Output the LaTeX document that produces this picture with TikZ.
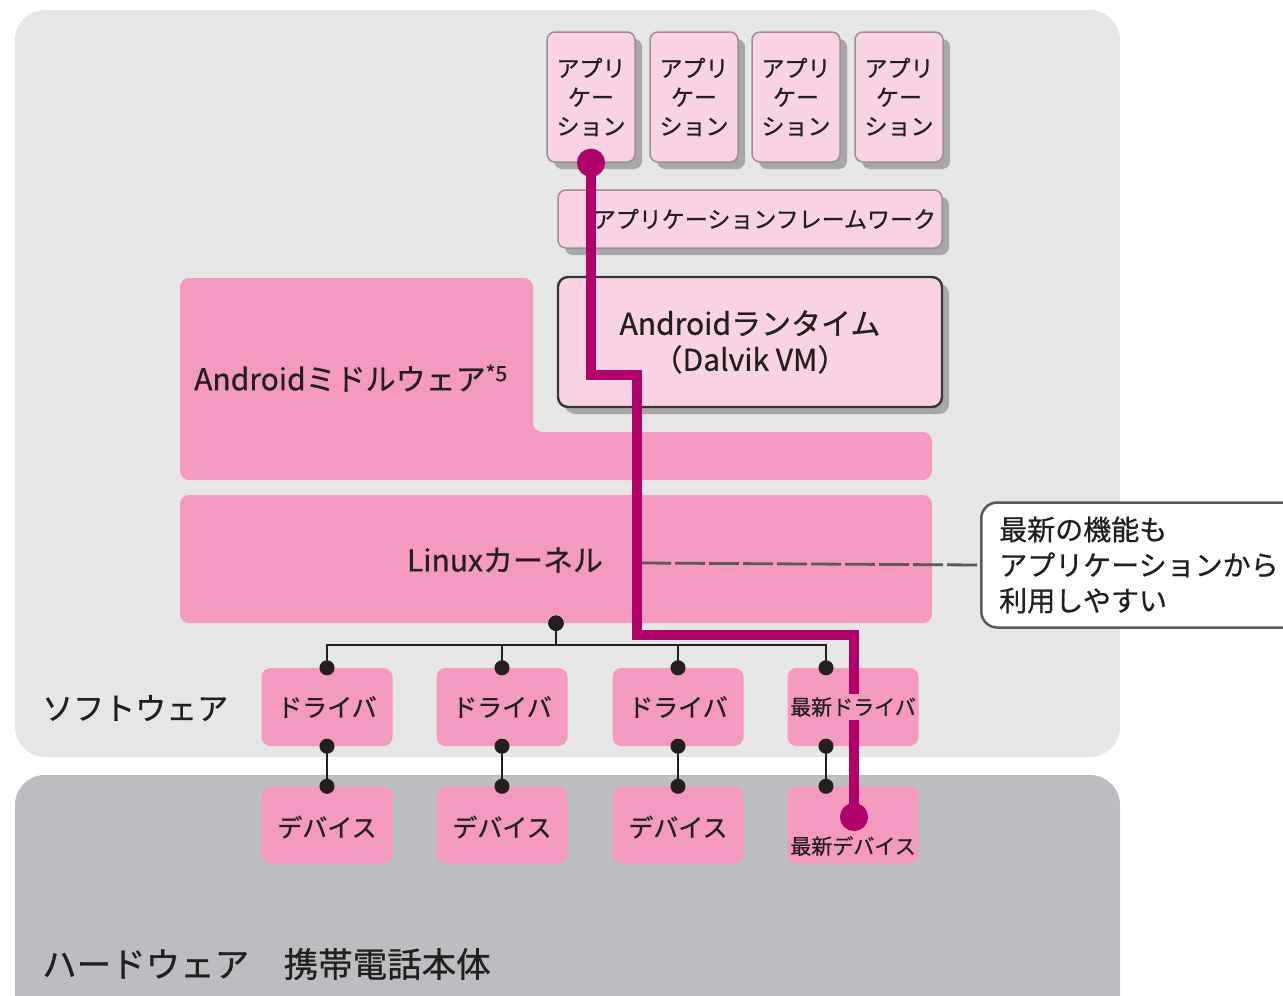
\documentclass[tikz,border=0pt]{standalone}
\usepackage{fontspec}
\setmainfont{Noto Sans CJK JP}[UprightFeatures={FakeBold=0.7}]
\usetikzlibrary{positioning, shadows, arrows.meta}

\definecolor{swgray}{HTML}{E6E6E6}
\definecolor{hwgray}{HTML}{BCBDC0}
\definecolor{softpink}{HTML}{F9D3E3}
\definecolor{midpink}{HTML}{F49AC1}
\definecolor{routered}{HTML}{B0006A}
\definecolor{ink}{HTML}{231F20}
\definecolor{edgegray}{HTML}{A08C96}
\definecolor{shadegray}{HTML}{A7A7AA}
\definecolor{notegray}{HTML}{5A5A5A}

\begin{document}
\begin{tikzpicture} [
		x=1pt, y=-1pt,
		every node/.style={text=ink, inner sep=0pt},
		app/.style={draw=edgegray, line width=1.5pt, fill=softpink, rounded corners=8pt,
			align=center, drop shadow={shadow xshift=7pt, shadow yshift=-7pt, fill=shadegray, opacity=1}},
		unit/.style={fill=midpink, rounded corners=9pt, minimum width=131pt, minimum height=78pt},
		tree/.style={draw=ink, line width=2.5pt, {Circle[length=15pt]}-{Circle[length=15pt]},
			shorten <=-7.5pt, shorten >=-7.5pt},
		route/.style={draw=routered, line width=9.5pt, {Circle[length=28pt]}-{Circle[length=28pt]},
			shorten <=-14pt, shorten >=-14pt}
	]
\clip (0,0) rectangle (1283,996);

% software / hardware areas
\fill[swgray, rounded corners=30pt] (15,10) rectangle (1120,757);
\fill[hwgray, rounded corners=30pt] (15,775) rectangle (1120,1040);
\node (sw) [anchor=west, font=\fontsize{31}{36}\selectfont] at (42,708) {ソフトウェア};
\node (hw) [anchor=west, font=\fontsize{34.5}{38}\selectfont] at (42,964) {ハードウェア　携帯電話本体};

% applications
\foreach \i/\x in {1/591,2/694,3/796,4/899}
	\node (app\i) [app, minimum width=88pt, minimum height=130pt, font=\fontsize{23}{29}\selectfont]
		at (\x,97) {アプリ\\ケー\\ション};

\node (fw) [app, minimum width=384pt, minimum height=58pt, text width=372pt, align=right,
	font=\fontsize{23}{28}\selectfont] at (750,219) {アプリケーションフレームワーク};
\node (rt) [app, draw=ink!90, line width=2.4pt, rounded corners=10pt, minimum width=384pt,
	minimum height=130pt, font=\fontsize{30}{36}\selectfont] at (750,342)
	{Androidランタイム\\（Dalvik VM）};

% middleware and kernel
\fill[midpink, rounded corners=9pt] (180,278) -- (533,278) -- (533,432) -- (932,432)
	-- (932,480) -- (180,480) -- cycle;
\node (mw) [anchor=west, font=\fontsize{30}{34}\selectfont] at (194,378)
	{Androidミドルウェア\textsuperscript{*5}};
\node (kernel) [fill=midpink, rounded corners=9pt, minimum width=752pt, minimum height=128pt]
	at (556,559) {};
\node (klabel) [font=\fontsize{30}{34}\selectfont] at (505,560) {Linuxカーネル};
\coordinate (kdot) at (kernel.south -| 556,0);

% drivers and devices
\foreach \i/\x in {1/327,2/502,3/678,4/853} {
	\node (drv\i) [unit] at (\x,707) {};
	\node (dev\i) [unit, minimum height=77pt] at (\x,825) {};
}
\foreach \i in {1,2,3} {
	\node (drvtext\i) [font=\fontsize{25}{30}\selectfont] at (drv\i) {ドライバ};
	\node (devtext\i) [font=\fontsize{25}{30}\selectfont] at ([yshift=-2pt]dev\i.center) {デバイス};
}
\node (devtext4) [font=\fontsize{21}{26}\selectfont] at (853,846) {最新デバイス};

\foreach \i/\x in {1/327,2/502,3/678,4/826} {
	\draw[tree] (kdot) -- ++(0,22) -| (drv\i.north -| \x,0);
	\draw[tree] (drv\i.south -| \x,0) -- (dev\i.north -| \x,0);
}

% note
\node (note) [draw=notegray, line width=2.5pt, fill=white, rounded corners=16pt, anchor=west,
	minimum height=125pt, text width=300pt, inner xsep=18pt, align=left,
	font=\fontsize{28}{35.5}\selectfont] at (980,565)
	{最新の機能も\\アプリケーションから\\利用しやすい};
\coordinate (tap) at (641,563);
\draw[notegray, line width=2.8pt, dash pattern=on 30pt off 4pt] (tap) -- (note.west);

% route from the application to the new device
\coordinate (hit) at (854,817);
\draw[route] (app1.south) |- (637,375) |- (854,635) -- (hit);
\node (drvtext4) [fill=midpink, inner ysep=3pt, font=\fontsize{21}{26}\selectfont] at (drv4) {最新ドライバ};
\end{tikzpicture}
\end{document}
